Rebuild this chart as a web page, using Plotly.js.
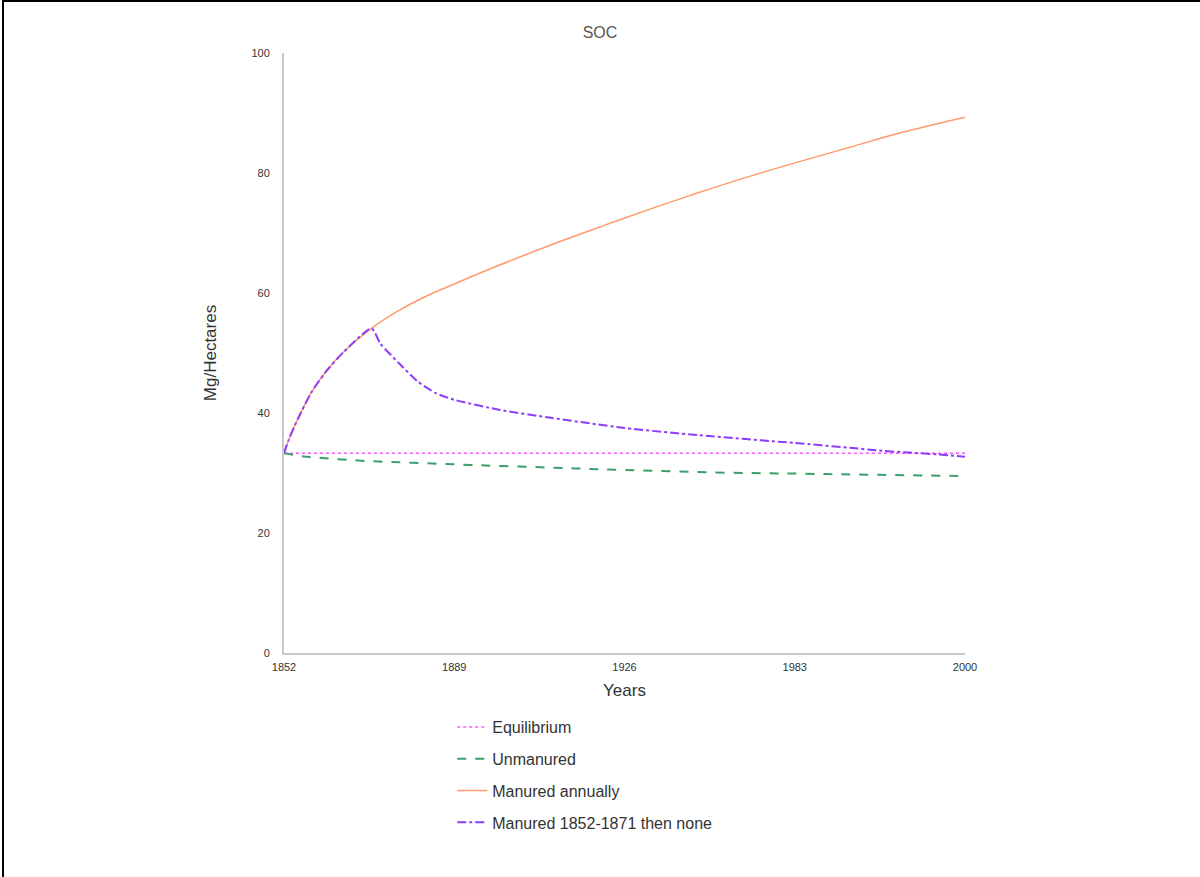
<!DOCTYPE html>
<html>
<head>
<meta charset="utf-8">
<script src="https://cdn.plot.ly/plotly-3.0.1.min.js"></script>
<style>
  html, body { margin: 0; padding: 0; background: #fff; }
  #chart { position: absolute; left: 0; top: 0; width: 1200px; height: 877px; }
  #frame { position: absolute; left: 2px; top: 0; width: 1198px; height: 877px;
           border-top: 2px solid #000; border-left: 2px solid #000; box-sizing: border-box; pointer-events: none; }
</style>
</head>
<body>
<div id="chart"></div>
<div id="frame"></div>
<script>
// ---- data ----
const seriesNames = ["Equilibrium", "Unmanured", "Manured annually", "Manured 1852-1871 then none"];

const equilibriumYears = [1852, 2000];
const equilibriumValues = [33.3, 33.3];

const unmanuredYears = [1852, 1856, 1862, 1870, 1880, 1894, 1910, 1926, 1945, 1963, 1980, 2000];
const unmanuredValues = [33.3, 32.8, 32.4, 32.0, 31.7, 31.3, 30.9, 30.5, 30.1, 29.9, 29.7, 29.5];

const manuredYears = [1852, 1853, 1855, 1858, 1861, 1865, 1871, 1877, 1883, 1889, 1899, 1910, 1921, 1932, 1942, 1953, 1964, 1975, 1986, 2000];
const manuredValues = [33.3, 35.5, 39.0, 43.5, 46.8, 50.2, 54.1, 57.1, 59.5, 61.5, 64.7, 68.0, 71.1, 74.1, 76.7, 79.4, 81.9, 84.3, 86.7, 89.3];

const stopYears = [1852, 1853, 1855, 1858, 1861, 1865, 1871, 1873, 1877, 1881, 1885, 1889, 1899, 1910, 1926, 1942, 1963, 1975, 1982, 1994, 2000];
const stopValues = [33.3, 35.5, 39.0, 43.5, 46.8, 50.2, 54.1, 51.5, 48.3, 45.3, 43.3, 42.2, 40.5, 39.2, 37.5, 36.3, 35.0, 34.2, 33.7, 33.1, 32.7];

const xTickVals = [1852, 1889, 1926, 1963, 2000];
const xTickText = ["1852", "1889", "1926", "1983", "2000"];
const yTickVals = [0, 20, 40, 60, 80, 100];

// ---- traces ----
const traces = [
  { x: equilibriumYears, y: equilibriumValues, name: seriesNames[0], mode: "lines", legendgroup: "a",
    line: { color: "#ff55ff", width: 1.5, dash: "dot" } },
  { x: unmanuredYears, y: unmanuredValues, name: seriesNames[1], mode: "lines", legendgroup: "b",
    line: { color: "#3a9f68", width: 2, dash: "dash", shape: "spline" } },
  { x: manuredYears, y: manuredValues, name: seriesNames[2], mode: "lines", legendgroup: "c",
    line: { color: "#ff9a6a", width: 1.5, shape: "spline" } },
  { x: stopYears, y: stopValues, name: seriesNames[3], mode: "lines", legendgroup: "d",
    line: { color: "#8a3cff", width: 2, dash: "dashdot", shape: "spline", smoothing: 0.6 } }
];

const layout = {
  width: 1200, height: 877,
  paper_bgcolor: "#ffffff", plot_bgcolor: "#ffffff",
  font: { family: "Liberation Sans, Arial, sans-serif", color: "#333" },
  margin: { l: 284, r: 235, t: 53, b: 224, pad: 0 },
  title: { text: "SOC", x: 0.5, xanchor: "center", y: 0.963, yanchor: "middle",
           font: { size: 16, color: "#555" } },
  showlegend: true,
  legend: { orientation: "v", x: 0.247, xanchor: "left", y: -0.095, yanchor: "top",
            font: { size: 16, color: "#333" }, tracegroupgap: 8, bgcolor: "rgba(0,0,0,0)" },
  xaxis: {
    range: [1852, 2000], tickvals: xTickVals, ticktext: xTickText,
    showgrid: false, zeroline: false, showline: true, linecolor: "#c8c8c8", linewidth: 2,
    ticks: "", ticklabelstandoff: 3, tickfont: { size: 11, color: "#333" },
    title: { text: "Years", font: { size: 17, color: "#333" }, standoff: 12 }
  },
  yaxis: {
    range: [0, 100], tickvals: yTickVals,
    showgrid: false, zeroline: false, showline: true, linecolor: "#c8c8c8", linewidth: 2,
    ticks: "", ticklabelstandoff: 10, tickfont: { size: 11, color: "#333" },
    title: { text: "Mg/Hectares", font: { size: 17, color: "#333" }, standoff: 30 }
  }
};

Plotly.newPlot("chart", traces, layout, { displayModeBar: false, staticPlot: true });
</script>
</body>
</html>
